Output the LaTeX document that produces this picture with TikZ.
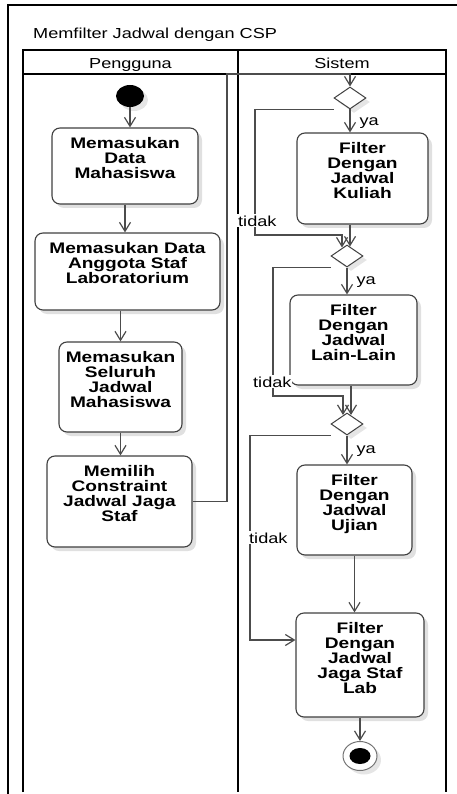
\documentclass[tikz,border=0pt]{standalone}
\usepackage{fontspec}
\setmainfont{Liberation Sans}[FakeStretch=1.25]
\usetikzlibrary{arrows.meta,shapes.geometric,shadows}
\newcommand{\acttext}[3]{\parbox[c][#2pt][t]{#1pt}{\centering\fontsize{15.3}{15}\bfseries\vspace*{9.5pt}#3}}

\begin{document}
\begin{tikzpicture}[x=1pt, y=-1pt,
  act/.style={draw=black!75, line width=1.1pt, rounded corners=8pt, fill=white, inner sep=0pt,
    drop shadow={shadow xshift=4pt, shadow yshift=-4pt, fill=black!12, opacity=1}},
  decision/.style={diamond, draw=black!75, line width=1pt, fill=white, inner sep=0pt,
    minimum width=32pt, minimum height=22pt,
    drop shadow={shadow xshift=4pt, shadow yshift=-4pt, fill=black!10, opacity=1}},
  start/.style={ellipse, fill=black, inner sep=0pt, minimum width=28pt, minimum height=22pt,
    drop shadow={shadow xshift=4pt, shadow yshift=-4pt, fill=black!10, opacity=1}},
  final/.style={ellipse, draw=black!55, line width=1pt, fill=white, inner sep=0pt,
    minimum width=34pt, minimum height=29pt,
    drop shadow={shadow xshift=4pt, shadow yshift=-4pt, fill=black!10, opacity=1}},
  flow/.style={draw=black!70, line width=1.2pt, -{Straight Barb[length=9pt,width=11pt,line width=1.2pt]}},
  lane/.style={line width=1.8pt},
  lbl/.style={font=\fontsize{14.5}{15}\selectfont, inner sep=1pt}]
  \useasboundingbox (0,0) rectangle (457,794);
  \clip (0,0) rectangle (457,794);

  \draw[line width=1.5pt] (8,800) -- (8,5) -- (470,5);
  \draw[lane] (23,792) -- (23,50) -- (446,50) -- (446,792);
  \draw[lane] (23,74) -- (446,74);
  \draw[lane] (238,50) -- (238,792);

  \node[lbl, anchor=base west] (title) at (32,39) {Memfilter Jadwal dengan CSP};
  \node[lbl, anchor=base] (pengguna) at (130.5,69) {Pengguna};
  \node[lbl, anchor=base] (sistem) at (342,69) {Sistem};

  \node[start] (init) at (130,96) {};
  \node[act] (mhs) at (125,166) {\acttext{146}{76}{Memasukan\\Data\\Mahasiswa}};
  \node[act] (staf) at (127.5,271.5) {\acttext{185}{77}{Memasukan Data\\Anggota Staf\\Laboratorium}};
  \node[act] (seluruh) at (120.5,387) {\acttext{123}{90}{Memasukan\\Seluruh\\Jadwal\\Mahasiswa}};
  \node[act] (constraint) at (119.5,501.5) {\acttext{145}{91}{Memilih\\Constraint\\Jadwal Jaga\\Staf}};
  \coordinate (turn) at (227,74);

  \node[decision] (d1) at (350,98) {};
  \node[act] (kuliah) at (362.5,178.5) {\acttext{131}{91}{Filter\\Dengan\\Jadwal\\Kuliah}};
  \node[decision] (d2) at (347,256) {};
  \node[act] (lain) at (353.5,340) {\acttext{127}{90}{Filter\\Dengan\\Jadwal\\Lain-Lain}};
  \node[decision] (d3) at (347,424) {};
  \node[act] (ujian) at (354.5,510) {\acttext{115}{90}{Filter\\Dengan\\Jadwal\\Ujian}};
  \node[act] (jaga) at (360,665) {\acttext{128}{104}{Filter\\Dengan\\Jadwal\\Jaga Staf\\Lab}};
  \node[final] (end) at (360,756) {};
  \node[ellipse, fill=black, inner sep=0pt, minimum width=21pt, minimum height=16pt] (enddot) at (end) {};

  \draw[flow] (init) -- (init |- mhs.north);
  \draw[flow] (mhs) -- (mhs |- staf.north);
  \draw[flow] (staf.south -| seluruh) -- (seluruh);
  \draw[flow] (seluruh) -- (seluruh |- constraint.north);
  \draw[flow] (constraint.east) -| (turn) -| (d1.north);

  \draw[flow] (d1) -- node[lbl, right=8pt, pos=0.6] (ya1) {ya} (d1.south |- kuliah.north);
  \draw[flow] ([xshift=3pt]d2.north |- kuliah.south) -- ([xshift=3pt,yshift=-2pt]d2.north);
  \draw[flow] (d1.south -| d1.west) -| (255,235) -| ([xshift=-5pt,yshift=-3pt]d2.north);
  \draw[flow] (d2) -- node[lbl, right=8pt, pos=0.55] (ya2) {ya} (d2.south |- lain.north);
  \draw[flow] ([xshift=4pt]d3.north |- lain.south) -- ([xshift=4pt,yshift=-2.5pt]d3.north);
  \draw[flow] (d2.south -| d2.west) -| (273,396) -| ([xshift=-4pt,yshift=-2.5pt]d3.north);
  \draw[flow] (d3) -- node[lbl, right=8pt, pos=0.55] (ya3) {ya} (d3.south |- ujian.north);
  \draw[flow] (ujian) -- (ujian |- jaga.north);
  \draw[flow] (d3.south -| d3.west) -| (250,640) -- (jaga.west |- 250,640);
  \draw[flow] (jaga) -- (end);

  \node[lbl, fill=white, anchor=base west] (tidak1) at (237,226) {tidak};
  \node[lbl, fill=white, anchor=base west] (tidak2) at (252,387) {tidak};
  \node[lbl, fill=white, anchor=base west] (tidak3) at (248,543) {tidak};
\end{tikzpicture}
\end{document}
